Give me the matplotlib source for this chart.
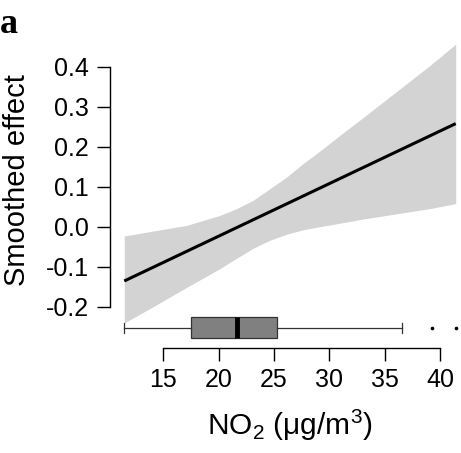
import numpy as np
import matplotlib
matplotlib.use('Agg')
import matplotlib.pyplot as plt

plt.rcParams['font.family'] = ['Liberation Sans', 'DejaVu Sans']
plt.rcParams['mathtext.fontset'] = 'custom'
plt.rcParams['mathtext.rm'] = 'Liberation Sans'
plt.rcParams['mathtext.default'] = 'regular'
plt.rcParams['axes.unicode_minus'] = False

# smoothed effect of NO2
no2 = [11.48, 14.10, 17.11, 20.12, 21.63, 23.13, 24.64, 26.15, 27.65,
       29.16, 30.66, 33.07, 36.08, 39.09, 41.41]
upper = [-0.0225, -0.010, 0.004, 0.029, 0.046, 0.067, 0.096, 0.125, 0.159,
         0.190, 0.223, 0.274, 0.339, 0.404, 0.457]
lower = [-0.240, -0.199, -0.151, -0.104, -0.078, -0.053, -0.033, -0.018,
         -0.007, 0.001, 0.008, 0.020, 0.033, 0.046, 0.0585]
fit_x = [11.48, 41.41]
fit_y = [-0.135, 0.2585]

# distribution of NO2 (box plot under the curve)
box_stats = [dict(med=21.7, q1=17.5, q3=25.3, whislo=11.5, whishi=36.6,
                  fliers=[39.3, 41.4])]

xticks = [15, 20, 25, 30, 35, 40]
yticks = [-0.2, -0.1, 0.0, 0.1, 0.2, 0.3, 0.4]

fig = plt.figure(figsize=(4.61, 4.53), dpi=100)
ax = fig.add_axes([0.2386, 0.2870, 0.7614, 0.6247])

ax.fill_between(no2, lower, upper, color='#d3d3d3', lw=0)
ax.plot(fit_x, fit_y, color='black', lw=2.2, solid_capstyle='butt')

bp = ax.bxp(box_stats, positions=[-0.2525], widths=0.0525, vert=False,
            patch_artist=True, capwidths=0.025,
            boxprops=dict(facecolor='#808080', edgecolor='#333333', lw=0.9),
            medianprops=dict(color='black', lw=3.5, solid_capstyle='butt'),
            whiskerprops=dict(color='#333333', lw=0.9),
            capprops=dict(color='#333333', lw=0.9),
            flierprops=dict(marker='o', markersize=1.6, markerfacecolor='black',
                            markeredgecolor='black'))
for arts in bp.values():
    for a in arts:
        a.set_clip_on(False)

ax.set_xlim(10.19, 41.89)
ax.set_ylim(-0.24, 0.4675)

for s in ['top', 'right']:
    ax.spines[s].set_visible(False)
ax.spines['left'].set_bounds(-0.2, 0.4)
ax.spines['bottom'].set_bounds(15, 40)
ax.spines['bottom'].set_position(('outward', 17.8))
for s in ['left', 'bottom']:
    ax.spines[s].set_linewidth(1.0)

ax.set_xticks(xticks)
ax.set_yticks(yticks)
ax.set_yticklabels(['%.1f' % v for v in yticks])
ax.tick_params(length=9.4, width=1.0, labelsize=18)
ax.tick_params(axis='x', pad=5)
ax.tick_params(axis='y', pad=6)

ax.set_ylabel('Smoothed effect', fontsize=21)
ax.yaxis.set_label_coords(-0.225, 0.505)
ax.set_xlabel('NO$_2$ (μg/m$^3$)', fontsize=21.5)
ax.xaxis.set_label_coords(0.513, -0.30)

fig.text(0.0, 0.927, 'a', family=['Liberation Serif'], weight='bold',
         fontsize=26, ha='left', va='baseline')

fig.savefig('out.png', dpi=100)
